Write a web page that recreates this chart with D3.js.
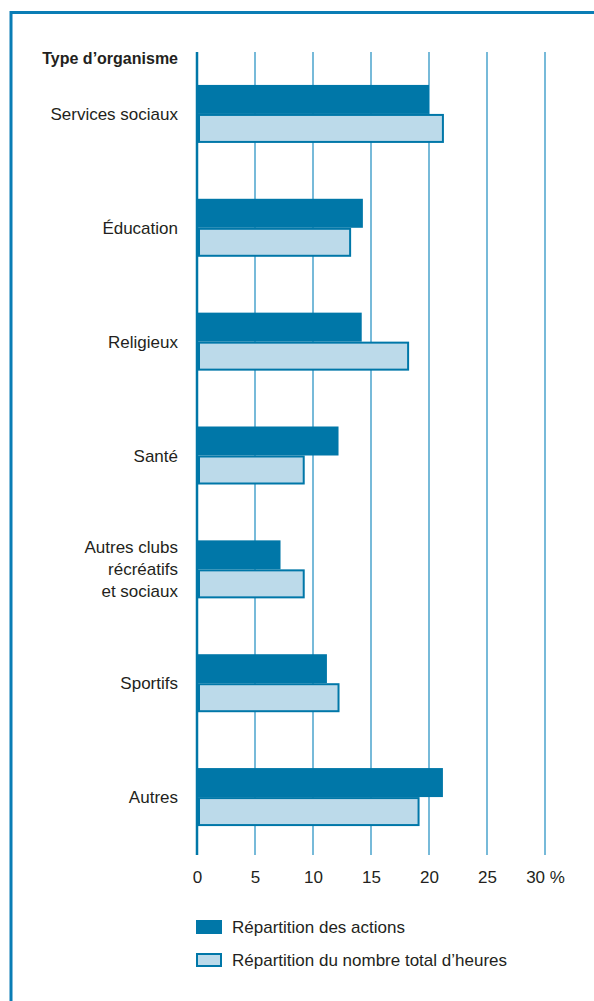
<!DOCTYPE html>
<html lang="fr">
<head>
<meta charset="UTF-8">
<title>Type d'organisme</title>
<script src="https://d3js.org/d3.v7.min.js"></script>
<style>
  body { margin: 0; background: #fff; }
  text { font-family: "Liberation Sans Narrow", "Liberation Sans", sans-serif; fill: #231f20; }
</style>
</head>
<body>
<svg id="chart" width="594" height="1001"></svg>
<script>
// data
var categories = ["Services sociaux", "Éducation", "Religieux", "Santé",
  "Autres clubs|récréatifs|et sociaux", "Sportifs", "Autres"];
var actions = [20.0, 14.3, 14.2, 12.2, 7.2, 11.2, 21.2];
var heures  = [21.2, 13.2, 18.2, 9.2, 9.2, 12.2, 19.1];
var ticks = [0, 5, 10, 15, 20, 25, 30];
var seriesNames = ["Répartition des actions", "Répartition du nombre total d’heures"];

var dark = "#0077a8", light = "#bcdaea", grid = "#4aa3cc";

var svg = d3.select("#chart");

// frame (left + top)
svg.append("path")
  .attr("d", "M11,1001 V12.5 H594")
  .attr("fill", "none")
  .attr("stroke", "#0a7db5")
  .attr("stroke-width", 3);

var x = d3.scaleLinear().domain([0, 30]).range([197, 545]);
var y = d3.scaleBand().domain(d3.range(categories.length)).range([57, 854]);
var sub = d3.scaleBand().domain([0, 1]).range([-29, 29]);

// grid lines
svg.selectAll(".grid")
  .data(ticks.slice(1))
  .enter().append("line")
  .attr("x1", function(d) { return x(d); })
  .attr("x2", function(d) { return x(d); })
  .attr("y1", 52).attr("y2", 855)
  .attr("stroke", grid)
  .attr("stroke-width", 1.5);

// tick labels via axis
var axis = svg.append("g")
  .attr("transform", "translate(0,855)")
  .call(d3.axisBottom(x).tickValues(ticks).tickSize(0).tickPadding(16)
    .tickFormat(function(d) { return d === 30 ? "30 %" : d; }));
axis.select(".domain").remove();
axis.selectAll("text")
  .attr("font-size", 17)
  .style("font-family", "'Liberation Sans Narrow', 'Liberation Sans', sans-serif")
  .attr("fill", "#231f20");

// bars
var groups = svg.selectAll(".grp")
  .data(categories)
  .enter().append("g")
  .attr("transform", function(d, i) { return "translate(0," + (y(i) + y.bandwidth() / 2) + ")"; });

groups.append("rect")
  .attr("x", x(0))
  .attr("y", sub(0))
  .attr("width", function(d, i) { return x(actions[i]) - x(0); })
  .attr("height", sub.bandwidth())
  .attr("fill", dark);

groups.append("rect")
  .attr("x", x(0) + 2)
  .attr("y", sub(1) + 1)
  .attr("width", function(d, i) { return x(heures[i]) - x(0) - 2; })
  .attr("height", sub.bandwidth() - 2)
  .attr("fill", light)
  .attr("stroke", dark)
  .attr("stroke-width", 2);

// category labels
groups.each(function(d) {
  var lines = d.split("|");
  var t = d3.select(this).append("text")
    .attr("x", 178)
    .attr("text-anchor", "end")
    .attr("font-size", 17);
  lines.forEach(function(l, k) {
    t.append("tspan")
      .attr("x", 178)
      .attr("y", (k - (lines.length - 1) / 2) * 22 + 6)
      .text(l);
  });
});

// zero axis line
svg.append("line")
  .attr("x1", x(0)).attr("x2", x(0))
  .attr("y1", 52).attr("y2", 855)
  .attr("stroke", dark)
  .attr("stroke-width", 2.5);

// header
svg.append("text")
  .attr("x", 178).attr("y", 64)
  .attr("text-anchor", "end")
  .attr("font-size", 16)
  .attr("font-weight", "bold")
  .text("Type d’organisme");

// legend
var legend = svg.selectAll(".leg")
  .data(seriesNames)
  .enter().append("g")
  .attr("transform", function(d, i) { return "translate(196," + (927 + i * 33) + ")"; });

legend.append("rect")
  .attr("x", function(d, i) { return i ? 1 : 0; })
  .attr("y", function(d, i) { return i ? -6 : -7; })
  .attr("width", function(d, i) { return i ? 24 : 26; })
  .attr("height", function(d, i) { return i ? 12 : 14; })
  .attr("fill", function(d, i) { return i ? light : dark; })
  .attr("stroke", function(d, i) { return i ? dark : "none"; })
  .attr("stroke-width", 2);

legend.append("text")
  .attr("x", 36).attr("y", 6)
  .attr("font-size", 17)
  .text(function(d) { return d; });
</script>
</body>
</html>
